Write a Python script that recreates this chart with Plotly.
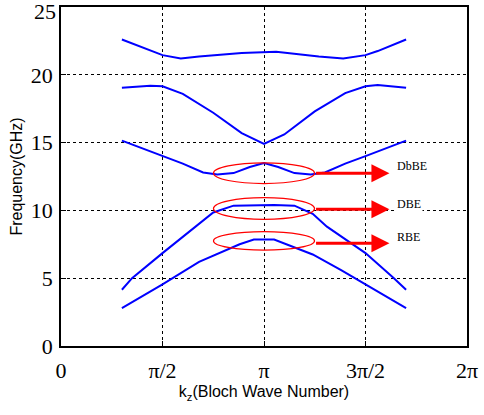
import plotly.graph_objects as go

# kz in units of pi, frequency in GHz
band1_k = [0.30, 0.50, 0.68, 0.88, 0.95, 1.05, 1.24, 1.38, 1.50, 1.70]
band1_f = [2.80, 4.55, 6.20, 7.50, 7.85, 7.85, 6.75, 5.60, 4.55, 2.80]

band2_k = [0.30, 0.35, 0.50, 0.68, 0.75, 0.85, 0.95, 1.05, 1.15, 1.24, 1.31, 1.42, 1.50, 1.64, 1.70]
band2_f = [4.15, 5.00, 6.85, 9.00, 9.85, 10.35, 10.40, 10.40, 10.35, 9.75, 8.80, 7.70, 6.85, 5.00, 4.15]

band3_k = [0.30, 0.50, 0.60, 0.70, 0.77, 0.85, 0.93, 1.00, 1.07, 1.15, 1.23, 1.30, 1.40, 1.50, 1.70]
band3_f = [15.15, 14.00, 13.45, 12.80, 12.65, 12.75, 13.20, 13.50, 13.20, 12.75, 12.65, 12.80, 13.45, 14.00, 15.15]

band4_k = [0.30, 0.44, 0.50, 0.60, 0.75, 0.89, 1.00, 1.10, 1.25, 1.40, 1.50, 1.56, 1.70]
band4_f = [19.05, 19.20, 19.15, 18.60, 17.20, 15.70, 14.90, 15.60, 17.30, 18.65, 19.15, 19.25, 19.05]

band5_k = [0.30, 0.40, 0.50, 0.59, 0.68, 0.89, 1.00, 1.06, 1.27, 1.39, 1.50, 1.56, 1.70]
band5_f = [22.60, 22.00, 21.45, 21.20, 21.35, 21.60, 21.70, 21.70, 21.35, 21.20, 21.45, 21.75, 22.60]

x_tickvals = [0, 0.5, 1, 1.5, 2]
x_ticktext = ["0", "π/2", "π", "3π/2", "2π"]
y_tickvals = [0, 5, 10, 15, 20, 25]
y_ticktext = ["0", "5", "10", "15", "20", ""]
y_top_label = "25"

# band-edge markers: label, ellipse centre freq, half-height, arrow freq, label freq
edge_labels = ["DbBE", "DBE", "RBE"]
edge_center = [12.74, 10.14, 7.75]
edge_halfh = [0.76, 0.80, 0.68]
edge_arrow_f = [12.74, 10.08, 7.57]
edge_label_f = [13.25, 10.45, 8.05]
ell_k_center = 1.0
ell_k_half = 0.249
arrow_end_k = 1.618
label_k = 1.645

fig = go.Figure()
for k, f in [(band1_k, band1_f), (band2_k, band2_f), (band3_k, band3_f),
             (band4_k, band4_f), (band5_k, band5_f)]:
    fig.add_trace(go.Scatter(x=k, y=f, mode="lines",
                             line=dict(color="#0000ff", width=2), showlegend=False,
                             hoverinfo="skip"))

for lab, c, h, af, lf in zip(edge_labels, edge_center, edge_halfh, edge_arrow_f, edge_label_f):
    fig.add_shape(type="circle", xref="x", yref="y",
                  x0=ell_k_center - ell_k_half, x1=ell_k_center + ell_k_half,
                  y0=c - h, y1=c + h, line=dict(color="#ff0000", width=1.2))
    fig.add_annotation(x=arrow_end_k, y=af, ax=ell_k_center + ell_k_half, ay=af,
                       xref="x", yref="y", axref="x", ayref="y", text="",
                       showarrow=True, arrowhead=2, arrowsize=1.2, arrowwidth=3,
                       arrowcolor="#ff0000", standoff=0, startstandoff=0)
    fig.add_annotation(x=label_k, y=lf, xref="x", yref="y", text=lab, showarrow=False,
                       xanchor="left", yanchor="middle", bgcolor="white",
                       font=dict(family="Liberation Serif", size=12, color="black"))

tick_font = dict(family="Liberation Serif", size=22, color="black")
# top y tick label, nudged down so it stays inside the page
fig.add_annotation(x=0, xref="paper", y=y_tickvals[-1], yref="y", text=y_top_label,
                   showarrow=False, xanchor="right", yanchor="middle",
                   xshift=-3, yshift=-4, font=tick_font)

fig.update_xaxes(range=[0, 2], tickvals=x_tickvals, ticktext=x_ticktext,
                 showgrid=True, gridcolor="black", griddash="dot", gridwidth=1,
                 showline=True, linecolor="black", linewidth=1.5, mirror=True,
                 ticks="inside", ticklen=5, tickcolor="black", zeroline=False,
                 tickfont=tick_font, automargin=False, ticklabelstandoff=4,
                 ticklabeloverflow="allow",
                 title=dict(text="k<sub>z</sub>(Bloch Wave Number)",
                            font=dict(family="Liberation Sans", size=16, color="black"),
                            standoff=2))
fig.update_yaxes(range=[0, 25], tickvals=y_tickvals, ticktext=y_ticktext,
                 showgrid=True, gridcolor="black", griddash="dot", gridwidth=1,
                 showline=True, linecolor="black", linewidth=1.5, mirror=True,
                 ticks="inside", ticklen=5, tickcolor="black", zeroline=False,
                 tickfont=tick_font, automargin=False, ticklabelstandoff=2,
                 ticklabeloverflow="allow",
                 title=dict(text="Frequency(GHz)",
                            font=dict(family="Liberation Sans", size=16, color="black"),
                            standoff=4))
fig.update_layout(width=484, height=415, margin=dict(l=61, r=17, t=7, b=69),
                  plot_bgcolor="white", paper_bgcolor="white", showlegend=False)
fig.write_html("out.html", config={"displayModeBar": False},
               post_script="document.body.style.margin='0px';")
